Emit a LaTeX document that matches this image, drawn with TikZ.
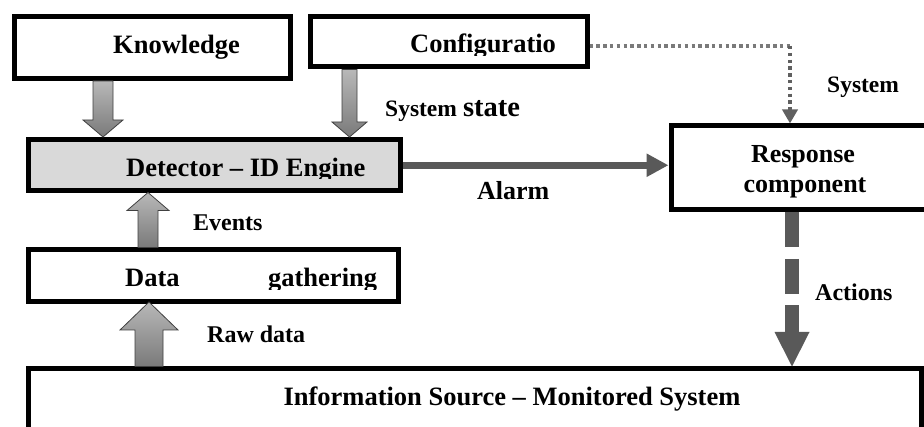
\documentclass[tikz,border=0pt]{standalone}
\usepackage{fontspec}
\setmainfont{Liberation Serif}
\usetikzlibrary{arrows.meta,calc}
\definecolor{arrgray}{HTML}{595959}
\definecolor{dotgray}{HTML}{7A7A7A}
\definecolor{dotgrayd}{HTML}{606060}
\definecolor{blktop}{HTML}{B8B8B8}
\definecolor{blkbot}{HTML}{7A7A7A}
\definecolor{blkline}{HTML}{404040}
\definecolor{detfill}{HTML}{D9D9D9}
\newcommand\fs[1]{\fontsize{#1}{#1}\selectfont}
% #1 centre x (px), #2 start anchor, #3 tip anchor, #4 shaft half width, #5 head half width, #6 signed head length
\newcommand\blockarrow[6]{%
  \path[blockarr] let \p1=#2, \p2=#3 in
   ({(#1-#4)*1pt},\y1) -- ({(#1-#4)*1pt},{\y2+(#6)*1pt}) -- ({(#1-#5)*1pt},{\y2+(#6)*1pt})
   -- ({#1*1pt},\y2) -- ({(#1+#5)*1pt},{\y2+(#6)*1pt}) -- ({(#1+#4)*1pt},{\y2+(#6)*1pt})
   -- ({(#1+#4)*1pt},\y1) -- cycle;}
\tikzset{
  box/.style={draw=black, line width=5pt, fill=white, rectangle, inner sep=0pt},
  txt/.style={inner sep=0pt, font=\bfseries\fs{26.5}},
  lbl/.style={inner sep=0pt, font=\bfseries\fs{24}},
  blockarr/.style={draw=blkline, line width=0.8pt, top color=blktop, bottom color=blkbot},
  actline/.style={draw=arrgray, line width=14pt, dash pattern=on 35pt off 11.5pt},
  alarmline/.style={draw=arrgray, line width=7pt, -{Triangle[width=22pt,length=22pt]}},
  dotline/.style={line width=3.5pt, dash pattern=on 3.5pt off 3.3pt}
}
\begin{document}
\begin{tikzpicture}[x=1pt,y=-1pt]
\useasboundingbox (0,0) rectangle (924,427);
\clip (0,0) rectangle (924,427);
\fill[white] (0,0) rectangle (924,427);
% boxes
\node[box, minimum width=275.5pt, minimum height=62pt] (know) at (152.25,47.5) {};
\node[box, minimum width=276.5pt, minimum height=50.5pt] (conf) at (448.75,41.75) {};
\node[box, fill=detfill, minimum width=372pt, minimum height=51.5pt] (det) at (214,165.25) {};
\node[box, minimum width=370pt, minimum height=52pt] (data) at (213,276) {};
\node[box, minimum width=269pt, minimum height=84pt] (resp) at (805.5,168) {};
\node[box, minimum width=893pt, minimum height=91pt] (info) at (474.5,414.5) {};
% block arrows
\blockarrow{103}{(know.south)}{(det.north)}{10}{20}{17}
\blockarrow{349.5}{(conf.south)}{(det.north)}{7.5}{17.5}{15}
\blockarrow{148}{(data.north)}{($(det.south)+(0,-1)$)}{10}{21}{-18}
\blockarrow{149}{(info.north)}{($(data.south)+(0,-2.5)$)}{14}{29}{-28}
% alarm
\draw[alarmline] (det.east) -- (det.east -| resp.west);
% dotted system arrow
\coordinate (dotc) at (790,46);
\draw[dotline, dotgray] (conf.east |- dotc) -- (dotc);
\draw[dotline, dotgrayd, -{Triangle[width=15pt,length=14pt]}] (dotc) -- (dotc |- resp.north);
% actions
\coordinate (actx) at (792,0);
\draw[actline] (resp.south -| actx) -- ($(info.north -| actx)+(0,-33.5)$);
\fill[arrgray] ($(info.north -| actx)+(-17.5,-34.5)$) -- (info.north -| actx) -- ($(info.north -| actx)+(17.5,-34.5)$) -- cycle;
% texts in boxes
\node[txt, anchor=base west] (knowt) at (113,53.3) {Knowledge};
\begin{scope}
\clip (0,0) rectangle (924,55.5);
\node[txt, anchor=base west] (conft) at (410,53) {Configuratio};
\end{scope}
\begin{scope}
\clip (0,0) rectangle (924,179);
\node[txt, anchor=base west] (dett) at (126,177) {Detector – ID Engine};
\end{scope}
\begin{scope}
\clip (0,0) rectangle (924,289.5);
\node[txt, anchor=base west] (datat) at (125,286.7) {Data\hspace{88.5pt}gathering};
\end{scope}
\node[txt, font=\bfseries\fs{26}, anchor=base] (respt1) at (803,163) {Response};
\node[txt, font=\bfseries\fs{26}, anchor=base] (respt2) at (805,193) {component};
\node[txt, anchor=base] (infot) at (512,406) {Information Source – Monitored System};
% labels
\node[lbl, anchor=base west] (lstate) at (385,116.7) {{\fs{23.5}System} {\fs{28.5}state}};
\node[lbl, font=\bfseries\fs{23.5}, anchor=base west] (lsys) at (827,93) {System};
\node[lbl, font=\bfseries\fs{26}, anchor=base west] (lalarm) at (477,200) {Alarm};
\node[lbl, anchor=base west] (levents) at (193,230.7) {Events};
\node[lbl, anchor=base west] (lraw) at (207,343) {Raw data};
\node[lbl, anchor=base west] (lact) at (815,301) {Actions};
\end{tikzpicture}
\end{document}
